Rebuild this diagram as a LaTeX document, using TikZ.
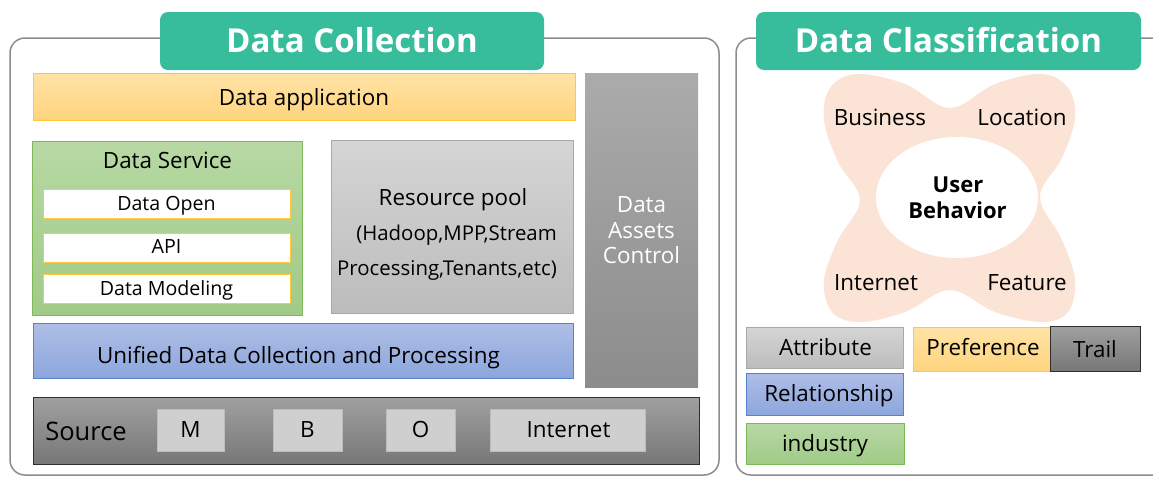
\documentclass[tikz,border=0pt]{standalone}
\usepackage{fontspec}
\usetikzlibrary{shapes.geometric}
\setmainfont{Open Sans}
\definecolor{teal}{HTML}{37BD9C}
\definecolor{frame}{HTML}{8C8C8C}
\definecolor{orgT}{HTML}{FFE3A6}
\definecolor{orgB}{HTML}{FFD47E}
\definecolor{orgL}{HTML}{FFC83D}
\definecolor{grnT}{HTML}{B7D8A4}
\definecolor{grnB}{HTML}{A1CA87}
\definecolor{grnL}{HTML}{7DB957}
\definecolor{bluT}{HTML}{AFBEE5}
\definecolor{bluB}{HTML}{8CA6DD}
\definecolor{bluL}{HTML}{5A82CC}
\definecolor{lgT}{HTML}{D5D5D5}
\definecolor{lgB}{HTML}{BCBCBC}
\definecolor{lgL}{HTML}{A8A8A8}
\definecolor{mgT}{HTML}{ABABAB}
\definecolor{mgB}{HTML}{8C8C8C}
\definecolor{dgT}{HTML}{A0A0A0}
\definecolor{dgB}{HTML}{777777}
\definecolor{dgL}{HTML}{2E2E2E}
\definecolor{chip}{HTML}{CFCFCF}
\definecolor{peach}{HTML}{FBE4D5}
\tikzset{
  every node/.style={inner sep=0pt, outer sep=0pt},
  lbl/.style={anchor=base, font=\fontsize{22.4}{26}\selectfont},
  small/.style={anchor=base, font=\fontsize{19.6}{23}\selectfont},
  outer/.style={draw=frame, line width=1.5pt, rounded corners=15pt},
  header/.style={fill=teal, rounded corners=8pt},
  htext/.style={anchor=base, text=white, font=\fontsize{33}{38}\selectfont\bfseries},
  orangebox/.style={draw=orgL, line width=0.9pt, top color=orgT, bottom color=orgB},
  greenbox/.style={draw=grnL, line width=0.9pt, top color=grnT, bottom color=grnB},
  bluebox/.style={draw=bluL, line width=0.9pt, top color=bluT, bottom color=bluB},
  lightgray/.style={draw=lgL, line width=0.9pt, top color=lgT, bottom color=lgB},
  midgray/.style={top color=mgT, bottom color=mgB},
  darkgray/.style={draw=dgL, line width=1pt, top color=dgT, bottom color=dgB},
  whitebox/.style={draw=orgL, line width=0.9pt, fill=white},
  chipbox/.style={draw=lgB, line width=0.6pt, fill=chip},
}
\begin{document}
\begin{tikzpicture}[x=1pt, y=-1pt]
\useasboundingbox (0,0) rectangle (1153,477);

% ---------------- Data Collection panel ----------------
\draw[outer] (10,38) rectangle (719,475);
\node[header, minimum width=384pt, minimum height=58pt] (hdrL) at (352,41) {};
\node[htext] (hdrLT) at (352,52) {Data Collection};

\node[orangebox, minimum width=542pt, minimum height=47pt] (app) at (304,96.5) {};
\node[lbl] (appT) at (304,105) {Data application};

\node[midgray, minimum width=113pt, minimum height=314pt] (assets) at (641.5,230) {};
\node[lbl, text=white] (assets1) at (641.5,212) {Data};
\node[lbl, text=white] (assets2) at (641.5,238) {Assets};
\node[lbl, text=white] (assets3) at (641.5,263.5) {Control};

\node[greenbox, minimum width=270pt, minimum height=174pt] (service) at (167,228) {};
\node[lbl] (serviceT) at (167.5,168) {Data Service};
\node[whitebox, minimum width=247pt, minimum height=29pt] (open) at (166.5,203.5) {};
\node[small] (openT) at (166.5,210) {Data Open};
\node[whitebox, minimum width=247pt, minimum height=29pt] (api) at (166.5,247.5) {};
\node[small] (apiT) at (166.5,253.5) {API};
\node[whitebox, minimum width=247pt, minimum height=29pt] (model) at (166.5,288.5) {};
\node[small] (modelT) at (166.5,295) {Data Modeling};

\node[lightgray, minimum width=242pt, minimum height=173pt] (pool) at (452,226.5) {};
\node[lbl] (poolT) at (453,205) {Resource pool};
\node[lbl, font=\fontsize{20.4}{24}\selectfont] (poolA) at (456.5,240.5) {(Hadoop,MPP,Stream};
\node[lbl, font=\fontsize{20.4}{24}\selectfont] (poolB) at (447,275.5) {Processing,Tenants,etc)};

\node[bluebox, minimum width=540pt, minimum height=55pt] (unified) at (303,350.5) {};
\node[lbl] (unifiedT) at (298.5,363) {Unified Data Collection and Processing};

\node[darkgray, minimum width=666pt, minimum height=67pt] (source) at (366,430.5) {};
\node[lbl, font=\fontsize{25.5}{30}\selectfont] (sourceT) at (86,440) {Source};
\node[chipbox, minimum width=67pt, minimum height=42pt] (m) at (190.5,430) {};
\node[lbl] (mT) at (190.5,437.5) {M};
\node[chipbox, minimum width=69pt, minimum height=42pt] (b) at (307.5,430) {};
\node[lbl] (bT) at (307.5,437.5) {B};
\node[chipbox, minimum width=69pt, minimum height=42pt] (o) at (420.5,430) {};
\node[lbl] (oT) at (420.5,437.5) {O};
\node[chipbox, minimum width=155pt, minimum height=42pt] (inet) at (567.5,430) {};
\node[lbl] (inetT) at (568.5,437.5) {Internet};

% ---------------- Data Classification panel ----------------
\draw[outer] (736,38) rectangle (1175,475);
\node[header, minimum width=385pt, minimum height=58pt] (hdrR) at (948.5,41) {};
\node[htext] (hdrRT) at (948.5,52) {Data Classification};

% four-lobed petal shape
\fill[peach] plot[smooth cycle, tension=0.6] coordinates {
  (950,108) (905,84) (857,74) (830,88) (824,120) (838,162) (860,200)
  (838,240) (824,280) (832,312) (860,322) (905,312) (950,290)
  (995,312) (1042,322) (1068,312) (1075,280) (1062,240) (1040,197)
  (1062,158) (1075,118) (1068,88) (1042,74) (995,84)};
\node[fill=white, ellipse, minimum width=162pt, minimum height=121pt] (core) at (957,197.5) {};
\node[lbl, font=\fontsize{22}{26}\selectfont\bfseries] (core1) at (958,192) {User};
\node[lbl, font=\fontsize{22}{26}\selectfont\bfseries] (core2) at (957.5,218) {Behavior};
\node[lbl] (biz) at (880,125) {Business};
\node[lbl] (loc) at (1022,125) {Location};
\node[lbl] (net) at (876,290.5) {Internet};
\node[lbl] (feat) at (1027,290.5) {Feature};

% legend boxes
\node[lightgray, minimum width=157pt, minimum height=41pt] (attr) at (824.5,347.5) {};
\node[lbl] (attrT) at (825.5,355) {Attribute};
\node[bluebox, minimum width=157pt, minimum height=42pt] (rel) at (824.5,394) {};
\node[lbl] (relT) at (829,401.5) {Relationship};
\node[greenbox, minimum width=158pt, minimum height=41pt] (ind) at (825,443.5) {};
\node[lbl] (indT) at (825,451) {industry};
\node[orangebox, minimum width=137pt, minimum height=44pt] (pref) at (981.5,349) {};
\node[lbl] (prefT) at (983,355.5) {Preference};
\node[darkgray, minimum width=90pt, minimum height=45pt] (trail) at (1095,348.5) {};
\node[lbl] (trailT) at (1095,357) {Trail};
\end{tikzpicture}
\end{document}
